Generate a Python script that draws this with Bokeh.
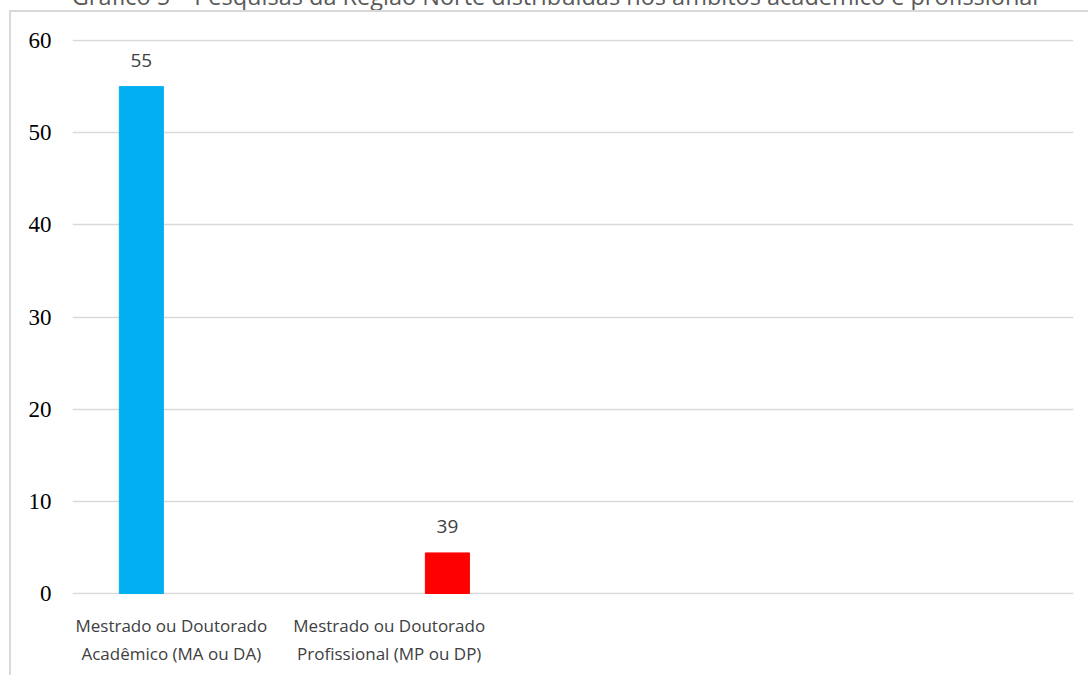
from bokeh.plotting import figure
from bokeh.models import FixedTicker, Div, Range1d, ColumnDataSource
from bokeh.layouts import column
from bokeh.embed import file_html
from bokeh.resources import INLINE
from bokeh.core.properties import value

title = "Gráfico 5 – Pesquisas da Região Norte distribuídas nos âmbitos acadêmico e profissional"
categories = ["Mestrado ou Doutorado\nAcadêmico (MA ou DA)",
              "Mestrado ou Doutorado\nProfissional (MP ou DP)"]
values = [55, 4.4]
data_labels = ["55", "39"]
colors = ["#00B0F0", "#FF0000"]
y_ticks = [0, 10, 20, 30, 40, 50, 60]

# positions (layout, not data)
bar_x = list(range(len(categories)))
label_shift = [0.098, -0.19]
label_x = [round(b + s, 3) for b, s in zip(bar_x, label_shift)]

src = ColumnDataSource(dict(x=bar_x, top=values, color=colors, lab=data_labels))

p = figure(width=1077, height=663, output_backend="svg", toolbar_location=None,
           x_range=Range1d(-0.225, 3.046), y_range=Range1d(-0.11, 60.11),
           min_border_left=61, min_border_right=15, min_border_top=27, min_border_bottom=81,
           margin=(0, 0, 0, 9),
           styles={"border-left": "2px solid #d9d9d9"})
p.outline_line_color = None
p.background_fill_color = "white"
p.border_fill_color = "white"

p.vbar(x="x", top="top", width=0.144, color="color", source=src)
p.text(x="x", y="top", text="lab", source=src, text_align="center", text_baseline="middle",
       y_offset=-26, text_font=value("Open Sans"), text_font_size="19px", text_color="#404040")

p.xgrid.visible = False
p.ygrid.grid_line_color = "#d9d9d9"
p.ygrid.grid_line_width = 1.3
p.ygrid.ticker = FixedTicker(ticks=y_ticks)

p.yaxis.ticker = FixedTicker(ticks=y_ticks)
p.yaxis.axis_line_color = None
p.yaxis.major_tick_line_color = None
p.yaxis.minor_tick_line_color = None
p.yaxis.major_label_text_font = "Liberation Serif"
p.yaxis.major_label_text_font_size = "23px"
p.yaxis.major_label_text_color = "#000000"
p.yaxis.major_label_standoff = 15

p.xaxis.ticker = FixedTicker(ticks=label_x)
p.xaxis.major_label_overrides = {lx: c for lx, c in zip(label_x, categories)}
p.xaxis.axis_line_color = None
p.xaxis.major_tick_line_color = None
p.xaxis.minor_tick_line_color = None
p.xaxis.major_label_text_font = "Open Sans"
p.xaxis.major_label_text_font_size = "17px"
p.xaxis.major_label_text_color = "#404040"
p.xaxis.major_label_text_line_height = 1.22
p.xaxis.major_label_standoff = 13

title_div = Div(text=title, width=1079, height=25, margin=(-15, 0, 0, 9),
                styles={"font-family": "Open Sans", "font-size": "23.5px", "color": "#595959",
                        "text-align": "center", "line-height": "22px", "white-space": "nowrap",
                        "padding-left": "13px", "overflow": "visible"})
frame_line = Div(text="", width=1079, height=2, margin=(0, 0, 0, 9),
                 styles={"background-color": "#d9d9d9", "position": "relative", "z-index": "10"})

layout = column(title_div, frame_line, p, spacing=0)
open("out.html", "w").write(file_html(layout, INLINE))
